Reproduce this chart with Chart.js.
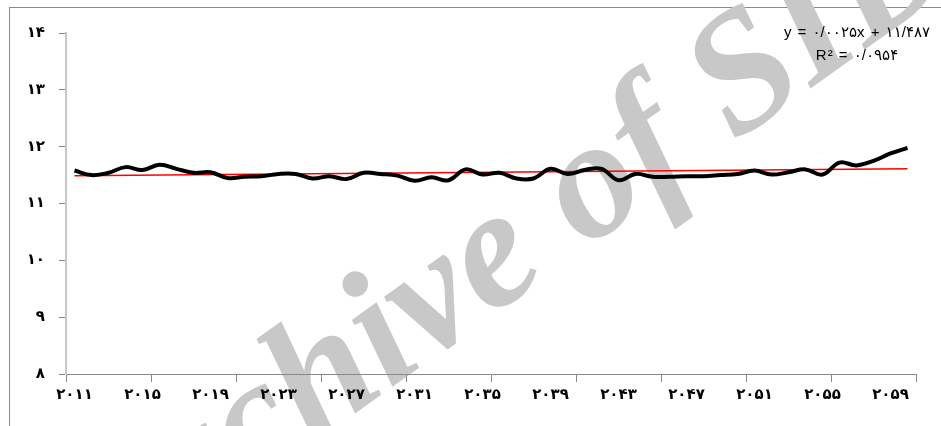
<!DOCTYPE html>
<html>
<head>
<meta charset="utf-8">
<script src="https://cdn.jsdelivr.net/npm/chart.js@4.4.1/dist/chart.umd.min.js"></script>
<style>
  body { margin: 0; background: #fff; overflow: hidden; }
  #wrap { position: relative; width: 941px; height: 426px; overflow: hidden; }
  #frame { position: absolute; left: 9px; top: 7px; width: 1200px; height: 800px; border: 1px solid #8c8c8c; }
  #chart { position: absolute; left: 0; top: 0; }
</style>
</head>
<body>
<div id="wrap">
  <div id="frame"></div>
  <canvas id="chart" width="941" height="426"></canvas>
</div>
<script>
// سال ها
const years = [
  '۲۰۱۱', '۲۰۱۲', '۲۰۱۳', '۲۰۱۴', '۲۰۱۵', '۲۰۱۶', '۲۰۱۷', '۲۰۱۸', '۲۰۱۹', '۲۰۲۰',
  '۲۰۲۱', '۲۰۲۲', '۲۰۲۳', '۲۰۲۴', '۲۰۲۵', '۲۰۲۶', '۲۰۲۷', '۲۰۲۸', '۲۰۲۹', '۲۰۳۰',
  '۲۰۳۱', '۲۰۳۲', '۲۰۳۳', '۲۰۳۴', '۲۰۳۵', '۲۰۳۶', '۲۰۳۷', '۲۰۳۸', '۲۰۳۹', '۲۰۴۰',
  '۲۰۴۱', '۲۰۴۲', '۲۰۴۳', '۲۰۴۴', '۲۰۴۵', '۲۰۴۶', '۲۰۴۷', '۲۰۴۸', '۲۰۴۹', '۲۰۵۰',
  '۲۰۵۱', '۲۰۵۲', '۲۰۵۳', '۲۰۵۴', '۲۰۵۵', '۲۰۵۶', '۲۰۵۷', '۲۰۵۸', '۲۰۵۹', '۲۰۶۰'
];

// مقادیر سری
const values = [
  11.58, 11.50, 11.54, 11.64, 11.59, 11.68, 11.61, 11.54, 11.55, 11.45,
  11.47, 11.48, 11.52, 11.52, 11.44, 11.48, 11.43, 11.54, 11.52, 11.49,
  11.40, 11.46, 11.41, 11.60, 11.51, 11.54, 11.44, 11.44, 11.61, 11.52,
  11.59, 11.61, 11.41, 11.52, 11.47, 11.47, 11.48, 11.48, 11.50, 11.52,
  11.58, 11.51, 11.55, 11.60, 11.51, 11.72, 11.67, 11.75, 11.88, 11.98
];

// خط روند (ابتدا و انتها)
const trendEnds = [11.49, 11.61];

const yTicks = ['۸', '۹', '۱۰', '۱۱', '۱۲', '۱۳', '۱۴'];
const equation = ['y = ۰/۰۰۲۵x + ۱۱/۴۸۷', 'R² = ۰/۰۹۵۴'];
const watermark = 'Archive of SID';

const labelFont = { family: 'DejaVu Sans', size: 15, weight: 'bold' };

const watermarkPlugin = {
  id: 'watermark',
  beforeDraw(chart) {
    const c = chart.ctx;
    c.save();
    c.translate(535, 285);
    c.rotate(-0.62);
    c.font = 'italic bold 170px "Liberation Serif"';
    c.fillStyle = '#c8c8c8';
    c.textAlign = 'center';
    c.fillText(watermark, 0, 0);
    c.restore();
  }
};

const equationPlugin = {
  id: 'equation',
  afterDraw(chart) {
    const c = chart.ctx;
    c.save();
    c.font = '15px "Liberation Sans", "DejaVu Sans"';
    c.letterSpacing = '1px';
    c.fillStyle = '#000';
    c.textAlign = 'center';
    c.textBaseline = 'middle';
    c.fillText(equation[0], 857, 33);
    c.fillText(equation[1], 857, 56);
    c.restore();
  }
};

const ctx = document.getElementById('chart').getContext('2d');

new Chart(ctx, {
  type: 'line',
  data: {
    labels: years,
    datasets: [{
      data: values,
      borderColor: '#000',
      borderWidth: 4,
      tension: 0.4,
      pointRadius: 0
    }, {
      data: [{ x: years[0], y: trendEnds[0] }, { x: years[years.length - 1], y: trendEnds[1] }],
      borderColor: '#ff0000',
      borderWidth: 1.5,
      tension: 0,
      pointRadius: 0
    }]
  },
  options: {
    responsive: false,
    animation: false,
    devicePixelRatio: 1,
    layout: { padding: { top: 33, right: 25, left: 0, bottom: 0 } },
    plugins: { legend: { display: false }, tooltip: { enabled: false } },
    scales: {
      x: {
        offset: true,
        ticks: {
          autoSkip: false,
          maxRotation: 0,
          padding: 4,
          color: '#000',
          font: labelFont,
          callback: (v, i) => (i % 4 === 0 ? years[i] : '')
        },
        grid: {
          offset: true,
          drawOnChartArea: false,
          tickLength: 8,
          color: (c) => (c.type !== 'tick' || c.index % 5 === 0 ? '#888' : 'rgba(0,0,0,0)')
        },
        border: { color: '#888', width: 1 },
        afterFit: (s) => { s.height = 52; }
      },
      y: {
        min: 8,
        max: 14,
        ticks: {
          stepSize: 1,
          padding: 14,
          color: '#000',
          font: labelFont,
          callback: (v) => yTicks[v - 8]
        },
        grid: { drawOnChartArea: false, tickLength: 7, color: '#888' },
        border: { color: '#c8c8c8', width: 2 },
        afterFit: (s) => { s.width = 66; }
      }
    }
  },
  plugins: [watermarkPlugin, equationPlugin]
});
</script>
</body>
</html>
